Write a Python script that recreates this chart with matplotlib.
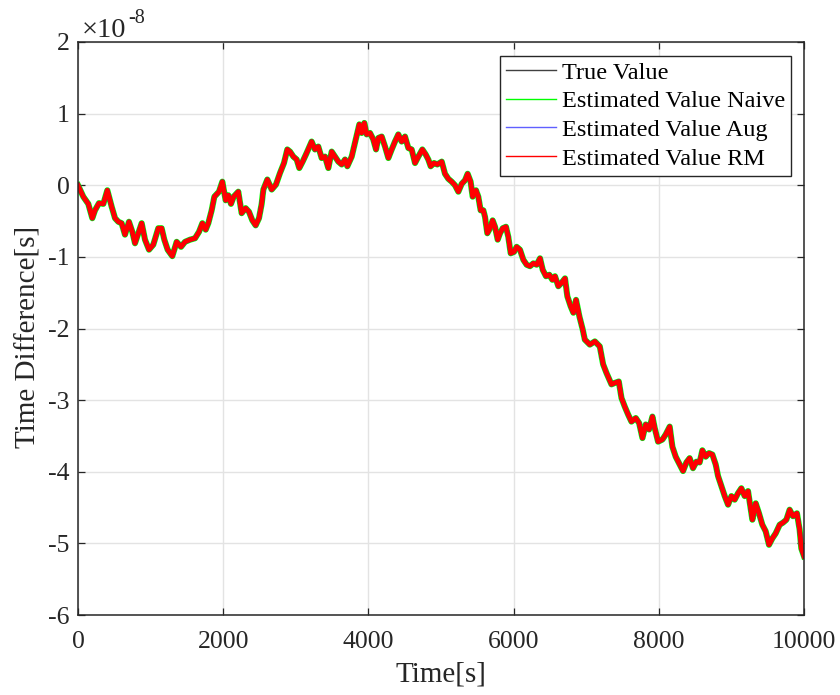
import matplotlib
matplotlib.use("Agg")
import matplotlib.pyplot as plt

plt.rcParams['font.family'] = ['Liberation Serif', 'DejaVu Serif']
plt.rcParams['axes.unicode_minus'] = False

# time [s]
time_s = [0, 73, 142, 197, 234, 289, 349, 404, 464, 510, 556, 601, 647, 702, 748, 785, 831, 877,
          923, 978, 1037, 1106, 1152, 1189, 1235, 1299, 1359, 1419, 1474, 1543, 1612, 1667, 1713,
          1759, 1795, 1841, 1878, 1942, 1988, 2034, 2071, 2107, 2144, 2208, 2254, 2309, 2355, 2401,
          2447, 2493, 2530,
          2553, 2608, 2668, 2727, 2782, 2837, 2883, 2920, 2966, 3012, 3048, 3094, 3149, 3218, 3264,
          3310, 3356, 3402, 3448, 3494, 3540, 3586, 3632, 3678, 3710, 3770, 3815, 3847, 3875, 3907,
          3944, 3976, 4022, 4067, 4105, 4137, 4183, 4229, 4275, 4321, 4366, 4412, 4458, 4504, 4550,
          4596, 4642, 4688, 4743, 4789, 4825, 4858, 4904, 4949, 5010,
          5055, 5101, 5147, 5193, 5239, 5285, 5331, 5367, 5408, 5436, 5482, 5514, 5546, 5583, 5606,
          5638, 5675, 5711, 5744, 5781, 5813, 5850, 5895, 5927, 5960, 6006, 6042, 6088, 6134, 6180,
          6226, 6272, 6318, 6364, 6401, 6446, 6492, 6534, 6570, 6616, 6662, 6708, 6740, 6786, 6823,
          6860, 6906, 6951,
          6981, 7050, 7119, 7187, 7233, 7279, 7348, 7394, 7449, 7486, 7531, 7577, 7623, 7683, 7729,
          7775, 7820, 7866, 7912, 7944, 7990, 8050, 8095, 8150, 8187, 8233, 8288, 8334, 8380, 8425,
          8471, 8517, 8563, 8600, 8646, 8692, 8738, 8784, 8816, 8862, 8908, 8954, 9000, 9045, 9091,
          9137, 9183, 9229, 9289, 9335, 9380, 9426, 9472, 9518, 9564, 9610, 9665, 9711, 9757, 9802,
          9848, 9903, 9940, 9963, 10000]

# time difference, in units of 1e-8 s
true_value = [0.00, -0.16, -0.26, -0.46, -0.35, -0.25, -0.26, -0.07, -0.30, -0.46, -0.51, -0.53, -0.69,
              -0.51, -0.65, -0.81, -0.67, -0.53, -0.76, -0.90, -0.83, -0.60, -0.60, -0.76, -0.90, -0.99,
              -0.79, -0.86, -0.79, -0.76, -0.74, -0.65, -0.53, -0.62, -0.53, -0.35, -0.16, -0.09, 0.05,
              -0.21, -0.14, -0.26, -0.16, -0.09, -0.39, -0.32, -0.37, -0.49, -0.56, -0.46, -0.26,
              -0.06, 0.08, -0.06, 0.01, 0.17, 0.31, 0.50, 0.47, 0.40, 0.36, 0.24, 0.33, 0.45, 0.61, 0.50,
              0.54, 0.38, 0.40, 0.24, 0.47, 0.40, 0.33, 0.29, 0.36, 0.265, 0.40, 0.59, 0.73, 0.85, 0.73,
              0.87, 0.71, 0.73, 0.64, 0.50, 0.66, 0.68, 0.54, 0.38, 0.50, 0.61, 0.71, 0.61, 0.68, 0.52,
              0.50, 0.31, 0.40, 0.50, 0.43, 0.36, 0.265, 0.31, 0.29, 0.33,
              0.16, 0.09, 0.05, 0.00, -0.09, 0.02, 0.07, 0.16, 0.05, -0.16, -0.07, -0.16, -0.35, -0.35,
              -0.44, -0.67, -0.60, -0.49, -0.58, -0.76, -0.67, -0.60, -0.58, -0.72, -0.95, -0.93, -0.86,
              -0.90, -1.04, -1.11, -1.13, -1.09, -1.11, -1.02, -1.18, -1.27, -1.25, -1.32, -1.27, -1.41,
              -1.36, -1.30, -1.55, -1.69, -1.78, -1.60, -1.83, -2.01,
              -2.155, -2.225, -2.18, -2.25, -2.50, -2.62, -2.78, -2.76, -2.74, -2.97, -3.09, -3.20, -3.30,
              -3.25, -3.32, -3.53, -3.34, -3.41, -3.23, -3.39, -3.58, -3.55, -3.48, -3.37, -3.65, -3.79,
              -3.90, -3.99, -3.87, -3.81, -3.95, -3.86, -3.87, -3.70, -3.79, -3.74, -3.76, -3.90, -4.06,
              -4.20, -4.34, -4.46, -4.34, -4.39, -4.30, -4.23, -4.34, -4.27, -4.67, -4.44, -4.58, -4.74,
              -4.83, -5.02, -4.93, -4.86, -4.74, -4.71, -4.67, -4.53, -4.62, -4.58, -4.81, -5.07, -5.18]

# estimates overlap the true value at this scale
est_naive = list(true_value)
est_aug = list(true_value)
est_rm = list(true_value)

series_labels = ['True Value', 'Estimated Value Naive', 'Estimated Value Aug', 'Estimated Value RM']
x_ticks = [0, 2000, 4000, 6000, 8000, 10000]
y_ticks = [-6, -5, -4, -3, -2, -1, 0, 1, 2]

dark = '#262626'
fig = plt.figure(figsize=(8.4, 6.95), dpi=100)
ax = fig.add_axes([78/840, 1-615/695, 726/840, 573/695])

ax.plot(time_s, true_value, color='k', lw=1.0, label=series_labels[0])
ax.plot(time_s, est_naive, color='#00ff00', lw=4.4, label=series_labels[1])
ax.plot(time_s, est_aug, color='#0000ff', lw=3.2, label=series_labels[2])
ax.plot(time_s, est_rm, color='#ff0000', lw=3.4, label=series_labels[3])

ax.set_xlim(0, 10000)
ax.set_ylim(-6, 2)
ax.set_xticks(x_ticks)
ax.set_xticklabels([str(v) for v in x_ticks])
ax.set_yticks(y_ticks)
ax.set_yticklabels([str(v) for v in y_ticks])
ax.grid(True, color='#e3e3e3', lw=1.0)
ax.set_axisbelow(True)
ax.tick_params(direction='in', length=5, width=0.9, top=True, right=True,
               labelsize=18.5, colors=dark, pad=6)
ax.tick_params(axis='x', pad=11.5)
for s in ax.spines.values():
    s.set_color(dark)
    s.set_linewidth(1.1)

ax.set_xlabel('Time[s]', fontsize=21, color=dark, labelpad=6)
ax.set_ylabel('Time Difference[s]', fontsize=21, color=dark)
ax.yaxis.set_label_coords(-0.0496, 0.485)

ax.text(0.0055, 1.0087, '×10', transform=ax.transAxes, fontsize=20.5, color=dark,
        ha='left', va='baseline')
ax.text(0.069, 1.034, '-8', transform=ax.transAxes, fontsize=14.5, color=dark,
        ha='left', va='baseline')

handles, labels = ax.get_legend_handles_labels()
leg_lines = [plt.Line2D([], [], color=h.get_color(), lw=1.0) for h in handles]
leg_lines[0].set_color('#404040')
leg_lines[2].set_color('#6060ff')
leg = ax.legend(leg_lines, labels, loc='upper right', bbox_to_anchor=(0.982, 0.976),
                fontsize=17.5, fancybox=False, framealpha=1, edgecolor=dark,
                handlelength=2.05, handletextpad=0.25, labelspacing=0.27,
                borderpad=0.25, borderaxespad=0.0)
leg.get_frame().set_linewidth(1.0)

fig.savefig('out.png', dpi=100)
